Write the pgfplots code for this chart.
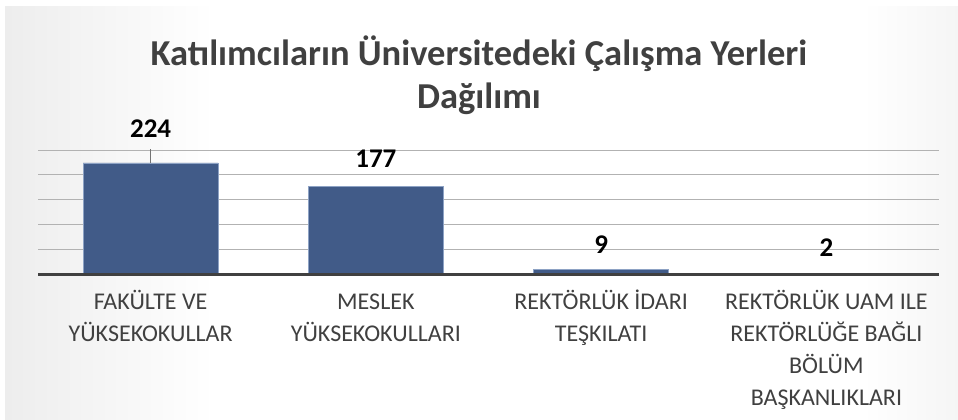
\documentclass[border=0pt]{standalone}
\usepackage{pgfplots}
\pgfplotsset{compat=1.18}
\usepackage{pgfplotstable}
\usepackage{fontspec}
\setmainfont{Carlito}
\definecolor{barfill}{HTML}{415B88}
\definecolor{baredge}{HTML}{8DA2C4}
\definecolor{txt}{HTML}{404040}
\definecolor{bgedge}{HTML}{C4C4C4}
\pgfdeclarehorizontalshading{bgshade}{100bp}{color(0bp)=(bgedge); color(36bp)=(white); color(70bp)=(white); color(100bp)=(bgedge)}
\newcommand{\s}{\rule{0pt}{21bp}}
\pgfplotstableread{
x y dy
0 224 34
1 177 27
2 9 24.5
3 2 25
}\datatable
\begin{document}
\begin{tikzpicture}[x=1bp,y=1bp]
\fill[white] (0,0) rectangle (958,419);
\shade[shading=bgshade] (5,0) rectangle (958,412);
\node[font=\fontsize{36.5bp}{43bp}\selectfont\bfseries, text=txt, align=center] at (479,344) {Katılımcıların Üniversitedeki Çalışma Yerleri\\Dağılımı};
\begin{axis}[
  at={(38bp,145bp)}, anchor=south west,
  scale only axis, width=901bp, height=124bp,
  xmin=-0.5, xmax=3.5, ymin=0, ymax=250,
  ytick={50,100,150,200,250}, yticklabels={},
  ymajorgrids, grid style={color=black!30, line width=0.9bp},
  axis line style={draw=none}, major tick length=0pt,
  xtick={0,1,2,3},
  xticklabels={{\s FAKÜLTE VE\\YÜKSEKOKULLAR},{\s MESLEK\\YÜKSEKOKULLARI},{\s REKTÖRLÜK İDARI\\TEŞKILATI},{\s REKTÖRLÜK UAM ILE\\REKTÖRLÜĞE BAĞLI\\BÖLÜM\\BAŞKANLIKLARI}},
  xticklabel style={align=center, anchor=north, font=\fontsize{24bp}{32bp}\selectfont, text=txt, yshift=-11bp},
  clip=false,
  /pgf/number format/assume math mode=true,
  ybar, bar width=135bp,
  nodes near coords,
  visualization depends on={\thisrow{dy} \as \dy},
  nodes near coords style={anchor=center, yshift=\dy*1bp, font=\fontsize{27bp}{30bp}\selectfont\bfseries, text=black},
]
\addplot[fill=barfill, draw=baredge, line width=0.6bp] table[x=x, y=y] {\datatable};
\draw[line width=3bp, color=black!75] (axis cs:-0.5,0) -- (axis cs:3.5,0);
\draw[color=black!55, line width=0.9bp] (axis cs:0,224) -- (axis cs:0,252);
\end{axis}
\end{tikzpicture}
\end{document}
